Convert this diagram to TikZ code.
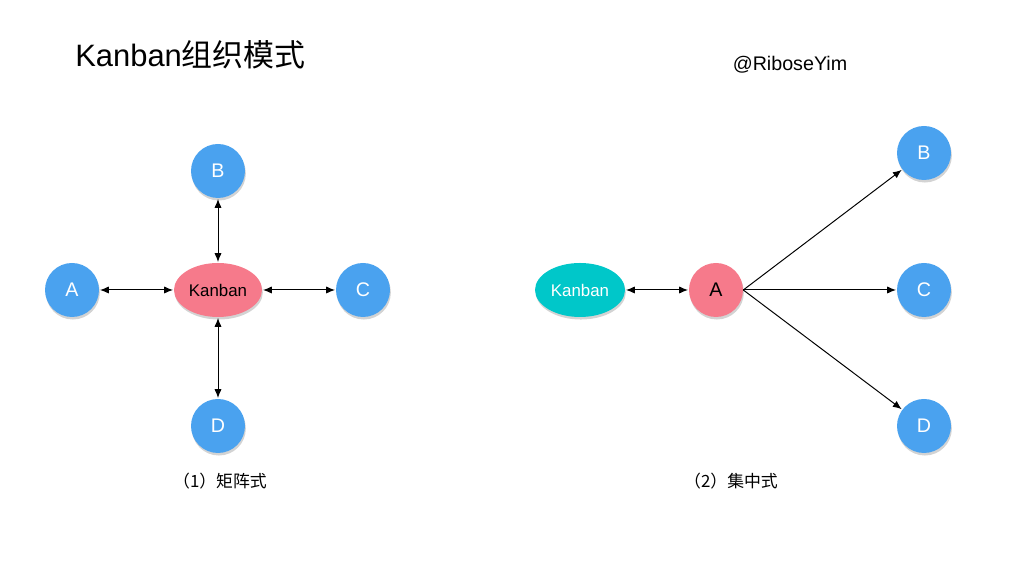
\documentclass[tikz,border=0pt]{standalone}
\usepackage{fontspec}
\setmainfont{Liberation Sans}
\newfontfamily\cjk{Noto Sans CJK SC}
\usepackage{tikz}
\usetikzlibrary{shapes.geometric, arrows.meta, shadows}

\definecolor{teamblue}{HTML}{4AA2EF}
\definecolor{kanbanpink}{HTML}{F67A8B}
\definecolor{kanbancyan}{HTML}{00C7C9}

\begin{document}
\begin{tikzpicture}[
        team/.style={circle, fill=teamblue, minimum size=1.35cm, inner sep=0pt, text=white, font=\fontsize{14}{16}\selectfont,
            drop shadow={shadow xshift=0.6pt, shadow yshift=-1.8pt, opacity=0.35}},
        board/.style={ellipse, minimum width=2.2cm, minimum height=1.35cm, inner sep=0pt, font=\fontsize{12}{14}\selectfont,
            drop shadow={shadow xshift=0.6pt, shadow yshift=-1.8pt, opacity=0.35}},
        link/.style={{Latex[length=2.2mm, width=1.8mm]}-{Latex[length=2.2mm, width=1.8mm]}, line width=0.7pt, shorten <=0.5pt, shorten >=0.5pt},
        flow/.style={-{Latex[length=2.2mm, width=1.8mm]}, line width=0.7pt, shorten >=0.5pt}
    ]
        \useasboundingbox (0,0) rectangle (25.6,14.3);

        % Titles
        \node[anchor=west, inner sep=0pt, font=\fontsize{22}{26}\selectfont] (title) at (1.875, 12.925) {Kanban{\cjk 组织模式}};
        \node[font=\fontsize{14}{16}\selectfont] (author) at (19.75, 12.675) {@RiboseYim};

        % (1) Matrix
        \node[board, fill=kanbanpink] (kanban1) at (5.45, 7.05) {Kanban};
        \node[team] (a1) at (1.8, 7.05) {A};
        \node[team] (b1) at (5.45, 10.025) {B};
        \node[team] (c1) at (9.075, 7.05) {C};
        \node[team] (d1) at (5.45, 3.65) {D};

        \draw[link] (a1) -- (kanban1);
        \draw[link] (kanban1) -- (c1);
        \draw[link] (b1) -- (kanban1);
        \draw[link] (kanban1) -- (d1);

        \node[font=\cjk\fontsize{12}{14}\selectfont] (cap1) at (5.5, 2.275) {（1）矩阵式};

        % (2) Centralized
        \node[board, fill=kanbancyan, minimum width=2.25cm, text=white] (kanban2) at (14.5, 7.05) {Kanban};
        \node[team, fill=kanbanpink, text=black] (a2) at (17.9, 7.05) {A};
        \node[team] (b2) at (23.1, 10.475) {B};
        \node[team] (c2) at (23.1, 7.05) {C};
        \node[team] (d2) at (23.1, 3.65) {D};

        \draw[link] (kanban2) -- (a2);
        \draw[flow] (a2.east) -- (b2);
        \draw[flow] (a2.east) -- (c2);
        \draw[flow] (a2.east) -- (d2);

        \node[font=\cjk\fontsize{12}{14}\selectfont] (cap2) at (18.275, 2.275) {（2）集中式};
    \end{tikzpicture}
\end{document}
